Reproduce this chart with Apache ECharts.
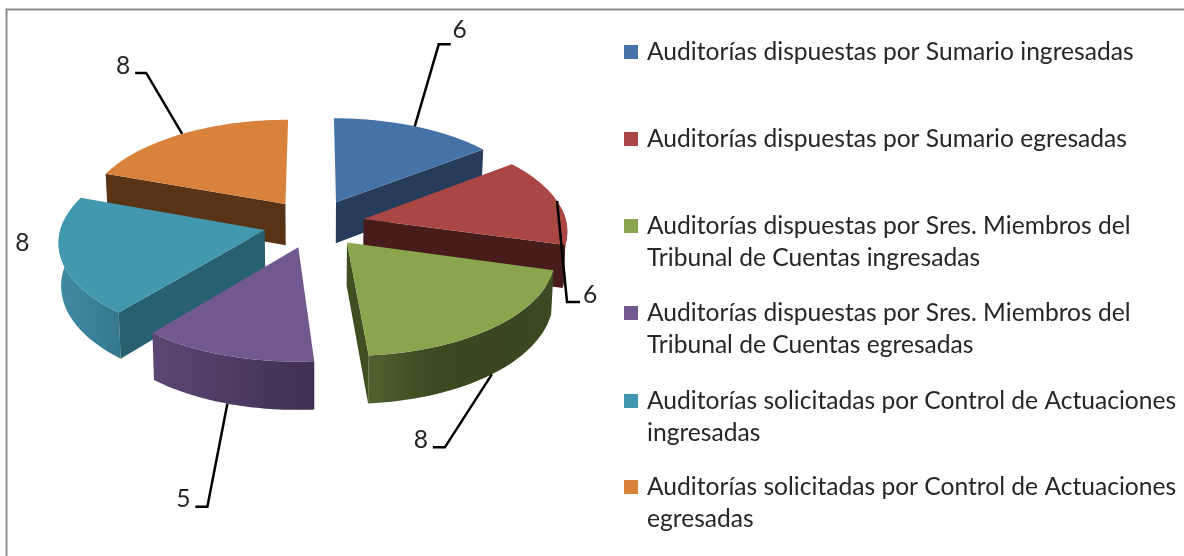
<!DOCTYPE html>
<html>

<head>
    <meta charset='utf-8' />
    <script src="https://cdn.jsdelivr.net/npm/echarts@6/dist/echarts.min.js"></script>
    <title>Auditorías</title>
    <style>
        body {
            margin: 0;
            background: #fff;
        }

        #chart {
            width: 1184px;
            height: 556px;
        }
    </style>
</head>

<body>
    <div id="chart"></div>
    <script type="text/javascript">
        var categories = [
            'Auditorías dispuestas por Sumario ingresadas',
            'Auditorías dispuestas por Sumario egresadas',
            'Auditorías dispuestas por Sres. Miembros del\nTribunal de Cuentas ingresadas',
            'Auditorías dispuestas por Sres. Miembros del\nTribunal de Cuentas egresadas',
            'Auditorías solicitadas por Control de Actuaciones\ningresadas',
            'Auditorías solicitadas por Control de Actuaciones\negresadas'
        ];
        var values = [6, 6, 8, 5, 8, 8];

        var topColors = ['#4572A7', '#AA4643', '#89A54E', '#71588F', '#4198AF', '#D9823C'];
        var wallColors = ['#253C5A', '#471C1A', '#3F4F22', '#4A3860', '#27606F', '#583315'];
        var rimColors = [
            ['#2E4A6E', '#253C5A'],
            ['#5A2422', '#471C1A'],
            ['#50622F', '#3B4A20', '#39461F', '#3B4A21'],
            ['#5C4773', '#4D3B62', '#3F2F52'],
            ['#3F8BA2', '#3A8298', '#34788C'],
            ['#7A4A20', '#583315']
        ];
        // back to front
        var drawOrder = [5, 0, 1, 4, 3, 2];
        // leader line and label, relative to the slice's anchor on the rim
        var leaders = [
            { elbow: [24, -82], tail: 12, label: [45, -96] },
            { elbow: [10, 101], tail: 13, label: [33, 94] },
            { elbow: [-47, 73], tail: -12, label: [-71, 66] },
            { elbow: [-20, 103], tail: -12, label: [-44, 95] },
            { elbow: null, tail: 0, label: [-38, -14] },
            { elbow: [-36, -61], tail: -11, label: [-59, -68] }
        ];
        var legendFirstLineY = [52, 139, 226, 313, 401, 487];

        // flat projection of the pie, radius 1, y towards the viewer
        var cam = { cx: 314, cy: 223.5, a: 203, b: 97, p: 0.105, explode: 0.25, depth: 42, shrink: 0.99 };
        var total = values.reduce(function(s, v) { return s + v; }, 0);

        function sliceAngles(i) {
            var before = 0;
            for (var k = 0; k < i; k++) before += values[k];
            return [before / total * 2 * Math.PI, (before + values[i]) / total * 2 * Math.PI];
        }

        function project(x, y, lower) {
            var w = 1 - cam.p * y;
            var sx = cam.a * x / w;
            var sy = cam.cy + cam.b * y / w;
            if (lower) {
                return [cam.cx + sx * cam.shrink, sy + cam.depth / w];
            }
            return [cam.cx + sx, sy];
        }

        function slicePoint(i, r, t, lower) {
            var ang = sliceAngles(i);
            var mid = (ang[0] + ang[1]) / 2;
            var x = cam.explode * Math.sin(mid) + r * Math.sin(t);
            var y = -cam.explode * Math.cos(mid) - r * Math.cos(t);
            return project(x, y, lower);
        }

        function wallVisible(a, b, other) {
            var ex = b[0] - a[0], ey = b[1] - a[1];
            var side = ex * (other[1] - a[1]) - ey * (other[0] - a[0]);
            return Math.abs(ex) > 8 && ex * side < 0;
        }

        function renderSlice(i) {
            return function(params, api) {
                var ang = sliceAngles(i);
                var steps = 40;
                var topArc = [], lowArc = [], rimTop = [], rimLow = [];
                for (var s = 0; s <= steps; s++) {
                    var t = ang[0] + (ang[1] - ang[0]) * s / steps;
                    topArc.push(slicePoint(i, 1, t, false));
                    lowArc.push(slicePoint(i, 1, t, true));
                    // only the part of the rim that faces the viewer
                    if (Math.cos(t) < 0.1) {
                        rimTop.push(topArc[s]);
                        rimLow.push(lowArc[s]);
                    }
                }
                var apex = slicePoint(i, 0, 0, false);
                var apexLow = slicePoint(i, 0, 0, true);
                var stops = rimColors[i].map(function(c, n, list) {
                    return { offset: n / (list.length - 1), color: c };
                });
                var children = [];
                if (rimTop.length > 1) {
                    children.push({
                        type: 'polygon',
                        shape: { points: rimTop.concat(rimLow.reverse()) },
                        style: { fill: new echarts.graphic.LinearGradient(0, 0, 1, 0, stops) }
                    });
                }
                var first = topArc[0], last = topArc[steps];
                if (wallVisible(apex, first, last)) {
                    children.push({
                        type: 'polygon',
                        shape: { points: [apex, first, lowArc[0], apexLow] },
                        style: { fill: wallColors[i] }
                    });
                }
                if (wallVisible(apex, last, first)) {
                    children.push({
                        type: 'polygon',
                        shape: { points: [apex, last, lowArc[steps], apexLow] },
                        style: { fill: wallColors[i] }
                    });
                }
                children.push({
                    type: 'polygon',
                    shape: { points: [apex].concat(topArc) },
                    style: { fill: topColors[i] }
                });

                // leader and value label
                var mid = (ang[0] + ang[1]) / 2;
                var front = Math.cos(mid) < -0.3;
                var anchor = slicePoint(i, 1, mid, front);
                var lead = leaders[i];
                if (lead.elbow) {
                    var elbow = [anchor[0] + lead.elbow[0], anchor[1] + lead.elbow[1]];
                    children.push({
                        type: 'polyline',
                        shape: { points: [anchor, elbow, [elbow[0] + lead.tail, elbow[1]]] },
                        style: { stroke: '#000', lineWidth: 2.5, fill: null }
                    });
                }
                children.push({
                    type: 'text',
                    style: {
                        x: anchor[0] + lead.label[0],
                        y: anchor[1] + lead.label[1],
                        text: String(api.value(0)),
                        align: 'center',
                        verticalAlign: 'middle',
                        font: '24.6px Lato, "Open Sans", sans-serif',
                        fill: '#262626'
                    }
                });
                return { type: 'group', children: children };
            };
        }

        // swatch stays on the first text line, the box is as tall as the text block
        function legendIcon(lines) {
            return 'path://M0 9H14V23H0Z M0 0L0 0 M18 ' + (lines * 32) + 'L18 ' + (lines * 32);
        }

        var legends = categories.map(function(name, i) {
            var lines = name.split('\n').length;
            return {
                data: [name],
                left: 624,
                top: legendFirstLineY[i] - 16,
                orient: 'vertical',
                icon: legendIcon(lines),
                itemWidth: 18,
                itemHeight: lines * 32,
                selectedMode: false,
                padding: 0,
                textStyle: {
                    fontFamily: 'Lato, "Open Sans", sans-serif',
                    fontSize: 24.6,
                    lineHeight: 32,
                    color: '#262626'
                }
            };
        });

        var chart = echarts.init(document.getElementById('chart'));
        chart.setOption({
            animation: false,
            backgroundColor: '#fff',
            legend: legends,
            graphic: [{
                type: 'rect',
                shape: { x: 6.5, y: 9.5, width: 1400, height: 800 },
                style: { fill: null, stroke: '#8E8E8E', lineWidth: 2 },
                silent: true
            }],
            series: drawOrder.map(function(i) {
                return {
                    type: 'custom',
                    name: categories[i],
                    coordinateSystem: 'none',
                    itemStyle: { color: topColors[i] },
                    data: [[values[i]]],
                    renderItem: renderSlice(i)
                };
            })
        });
    </script>
</body>

</html>
